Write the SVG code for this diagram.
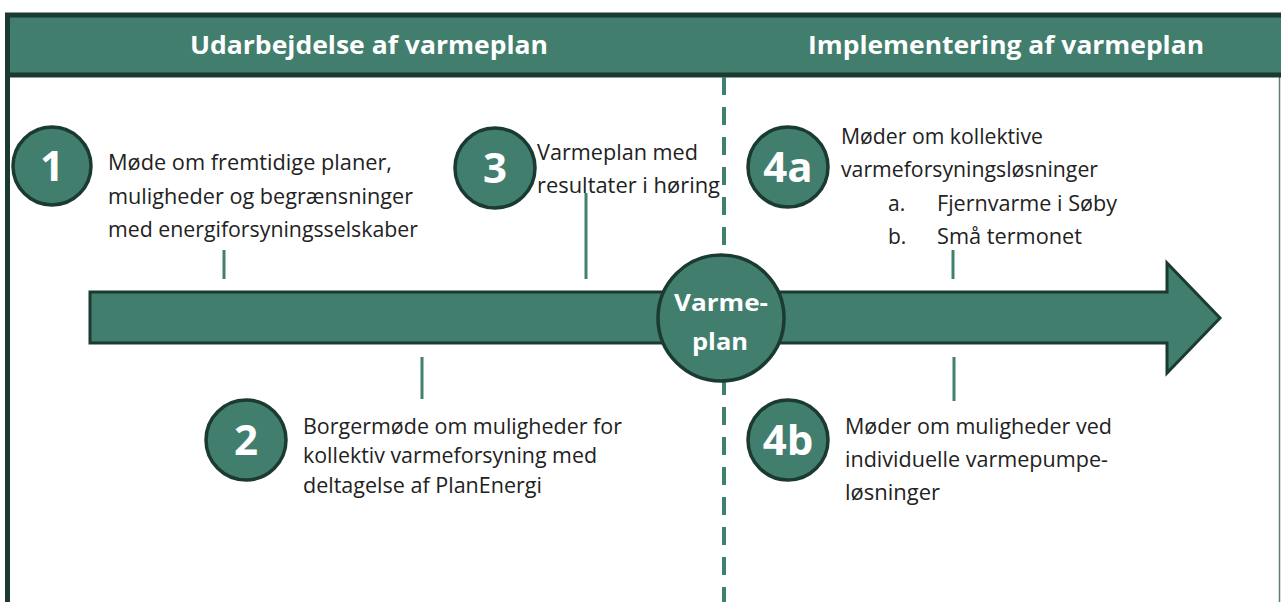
<svg xmlns="http://www.w3.org/2000/svg" width="1281" height="602" viewBox="0 0 1281 602">
<defs>
<style>
.bg{fill:#ffffff}
.band{fill:#417e6d;stroke:#1b3a31;stroke-width:5}
.frame{stroke:#1b3a31;stroke-width:5;fill:none}
.rframe{stroke:#5f7d74;stroke-width:1.5;fill:none}
.head{font-family:"Open Sans","Noto Sans",sans-serif;font-weight:700;font-size:25px;fill:#ffffff}
.arrow{fill:#417e6d;stroke:#1b3a31;stroke-width:3;stroke-linejoin:miter}
.num{fill:#417e6d;stroke:#1b3a31;stroke-width:3.5}
.numt{font-family:"Open Sans","Noto Sans",sans-serif;font-weight:700;font-size:42px;fill:#ffffff;text-anchor:middle}
.body{font-family:"Open Sans","Noto Sans",sans-serif;font-size:21px;fill:#222222}
.ctr{font-family:"Open Sans","Noto Sans",sans-serif;font-weight:700;font-size:24px;fill:#ffffff;text-anchor:middle}
.tick{stroke:#3f8070;stroke-width:3}
.dash{stroke:#3f8070;stroke-width:4;stroke-dasharray:18 12}
</style>
</defs>
<rect class="bg" x="0" y="0" width="1281" height="602"/>
<g id="frame">
<line class="frame" x1="7.5" y1="13" x2="7.5" y2="602"/>
<line class="rframe" x1="1279.5" y1="76" x2="1279.5" y2="602"/>
<rect class="band" x="7.5" y="15" width="1285" height="60"/>
<text class="head" x="190" y="54" textLength="358" lengthAdjust="spacingAndGlyphs">Udarbejdelse af varmeplan</text>
<text class="head" x="808" y="54" textLength="396" lengthAdjust="spacingAndGlyphs">Implementering af varmeplan</text>
</g>
<g id="connectors">
<line class="dash" x1="724" y1="77" x2="724" y2="602"/>
<line class="tick" x1="224" y1="250" x2="224" y2="279"/>
<line class="tick" x1="586" y1="193" x2="586" y2="279"/>
<line class="tick" x1="953" y1="250" x2="953" y2="279"/>
<line class="tick" x1="422" y1="357" x2="422" y2="399"/>
<line class="tick" x1="954" y1="357" x2="954" y2="401"/>
</g>
<g id="timeline">
<polygon class="arrow" points="90,292 1167,292 1167,263 1220,318 1167,373 1167,343 90,343"/>
</g>
<g id="varmeplan">
<circle class="num" cx="721" cy="318" r="63" stroke-width="3"/>
<text class="ctr" x="721" y="311" textLength="94" lengthAdjust="spacingAndGlyphs">Varme-</text>
<text class="ctr" x="720" y="350" textLength="56" lengthAdjust="spacingAndGlyphs">plan</text>
</g>
<g id="step1">
<circle class="num" cx="52" cy="166" r="39"/>
<text class="numt" x="52" y="181">1</text>
<text class="body" x="108" y="170" textLength="284" lengthAdjust="spacingAndGlyphs">Møde om fremtidige planer,</text>
<text class="body" x="108" y="204" textLength="305" lengthAdjust="spacingAndGlyphs">muligheder og begrænsninger</text>
<text class="body" x="108" y="237" textLength="310" lengthAdjust="spacingAndGlyphs">med energiforsyningsselskaber</text>
</g>
<g id="step2">
<circle class="num" cx="246" cy="440" r="40"/>
<text class="numt" x="246" y="455">2</text>
<text class="body" x="303" y="434" textLength="319" lengthAdjust="spacingAndGlyphs">Borgermøde om muligheder for</text>
<text class="body" x="303" y="463" textLength="294" lengthAdjust="spacingAndGlyphs">kollektiv varmeforsyning med</text>
<text class="body" x="303" y="493" textLength="239" lengthAdjust="spacingAndGlyphs">deltagelse af PlanEnergi</text>
</g>
<g id="step3">
<circle class="num" cx="495" cy="168" r="40"/>
<text class="numt" x="495" y="183">3</text>
<text class="body" x="537" y="160" textLength="161" lengthAdjust="spacingAndGlyphs">Varmeplan med</text>
<text class="body" x="537" y="193" textLength="183" lengthAdjust="spacingAndGlyphs">resultater i høring</text>
</g>
<g id="step4a">
<circle class="num" cx="788" cy="167" r="40"/>
<text class="numt" x="788" y="182">4a</text>
<text class="body" x="841" y="144" textLength="202" lengthAdjust="spacingAndGlyphs">Møder om kollektive</text>
<text class="body" x="841" y="177" textLength="257" lengthAdjust="spacingAndGlyphs">varmeforsyningsløsninger</text>
<text class="body" x="888" y="211">a.</text>
<text class="body" x="937" y="211" textLength="180" lengthAdjust="spacingAndGlyphs">Fjernvarme i Søby</text>
<text class="body" x="888" y="244">b.</text>
<text class="body" x="937" y="244" textLength="145" lengthAdjust="spacingAndGlyphs">Små termonet</text>
</g>
<g id="step4b">
<circle class="num" cx="788" cy="440" r="40"/>
<text class="numt" x="788" y="455">4b</text>
<text class="body" x="845" y="434" textLength="267" lengthAdjust="spacingAndGlyphs">Møder om muligheder ved</text>
<text class="body" x="845" y="467" textLength="263" lengthAdjust="spacingAndGlyphs">individuelle varmepumpe-</text>
<text class="body" x="845" y="500" textLength="95" lengthAdjust="spacingAndGlyphs">løsninger</text>
</g>
</svg>
